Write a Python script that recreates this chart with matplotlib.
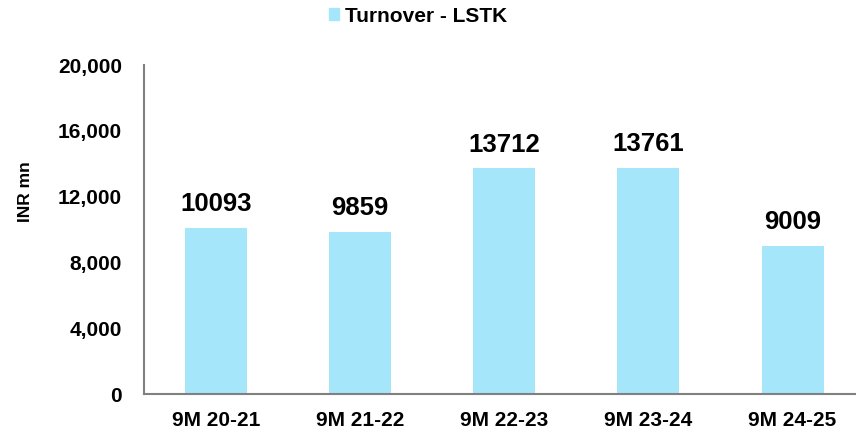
import matplotlib.pyplot as plt
from matplotlib.patches import Patch

plt.rcParams['font.family'] = ['Liberation Sans', 'DejaVu Sans']
plt.rcParams['font.weight'] = 'bold'

periods = ["9M 20-21", "9M 21-22", "9M 22-23", "9M 23-24", "9M 24-25"]
turnover = [10093, 9859, 13712, 13761, 9009]
yticks = [0, 4000, 8000, 12000, 16000, 20000]

bar_color = "#A5E6FB"

fig = plt.figure(figsize=(8.56, 4.32), dpi=100)
ax = fig.add_axes([144/856, 38/432, 712/856, 329/432])

x = range(len(periods))
ax.bar(x, turnover, width=0.43, color=bar_color)
for i, v in zip(x, turnover):
    ax.text(i, v + 700, str(v), ha='center', va='bottom', fontsize=18.5, fontweight='bold')

ax.set_xlim(-0.5, 4.44)
ax.set_ylim(0, 20000)
ax.set_yticks(yticks)
ax.set_yticklabels([f"{t:,}" for t in yticks], fontsize=15, fontweight='bold')
ax.set_xticks(list(x))
ax.set_xticklabels(periods, fontsize=15, fontweight='bold')
ax.tick_params(axis='both', length=0)
ax.tick_params(axis='y', pad=16)
ax.tick_params(axis='x', pad=12)

for s in ['top', 'right']:
    ax.spines[s].set_visible(False)
ax.spines['left'].set_color('#808080')
ax.spines['bottom'].set_color('#808080')
ax.spines['left'].set_linewidth(1.5)
ax.spines['bottom'].set_linewidth(1.5)

ax.set_ylabel("INR mn", fontsize=12.5, fontweight='bold')
ax.yaxis.set_label_coords(-111/712, 0.614)

fig.legend(handles=[Patch(color=bar_color, label="Turnover - LSTK")],
           loc='center', bbox_to_anchor=(418/856, 1 - 16/432), frameon=False,
           prop={'size': 15, 'weight': 'bold'}, handlelength=0.5, handleheight=0.5,
           handletextpad=0.3)

fig.savefig("out.png", dpi=100)
